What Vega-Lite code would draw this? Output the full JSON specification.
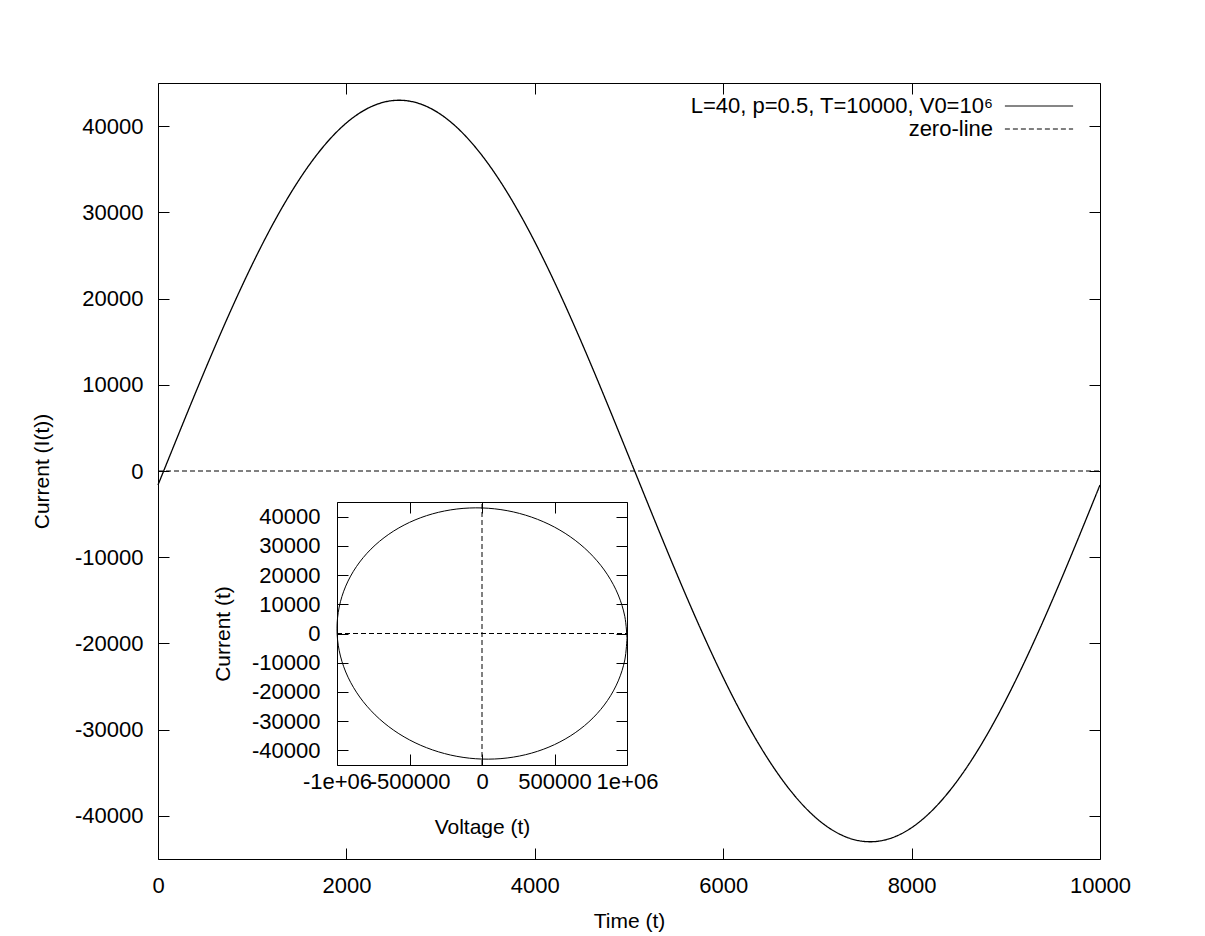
{
  "$schema": "https://vega.github.io/schema/vega-lite/v6.json",
  "width": 942,
  "height": 776,
  "autosize": {"type": "none"},
  "padding": {"left": 158, "top": 83, "right": 105, "bottom": 77},
  "background": "white",
  "config": {
    "view": {"stroke": "black", "strokeWidth": 1},
    "font": "Liberation Sans",
    "axis": {
      "labelFont": "Liberation Sans", "labelFontSize": 22, "labelColor": "black",
      "titleFont": "Liberation Sans", "titleFontSize": 21, "titleFontWeight": "normal", "titleColor": "black",
      "tickColor": "black", "tickWidth": 1, "tickSize": -11,
      "domainColor": "black", "domainWidth": 1,
      "grid": false, "labelFlush": false, "labelOverlap": false, "labelBound": false
    }
  },
  "datasets": {
    "main": [
      {"t": 0, "I": -1621}, {"t": 250, "I": 5121}, {"t": 500, "I": 11738}, {"t": 750, "I": 18064},
      {"t": 1000, "I": 23946}, {"t": 1250, "I": 29240}, {"t": 1500, "I": 33807}, {"t": 1750, "I": 37552},
      {"t": 2000, "I": 40369}, {"t": 2250, "I": 42188}, {"t": 2500, "I": 42969}, {"t": 2750, "I": 42694},
      {"t": 3000, "I": 41366}, {"t": 3250, "I": 39018}, {"t": 3500, "I": 35712}, {"t": 3750, "I": 31532},
      {"t": 4000, "I": 26570}, {"t": 4250, "I": 20950}, {"t": 4500, "I": 14822}, {"t": 4750, "I": 8325},
      {"t": 5000, "I": 1621}, {"t": 5250, "I": -5121}, {"t": 5500, "I": -11738}, {"t": 5750, "I": -18064},
      {"t": 6000, "I": -23946}, {"t": 6250, "I": -29240}, {"t": 6500, "I": -33807}, {"t": 6750, "I": -37552},
      {"t": 7000, "I": -40369}, {"t": 7250, "I": -42188}, {"t": 7500, "I": -42969}, {"t": 7750, "I": -42694},
      {"t": 8000, "I": -41366}, {"t": 8250, "I": -39018}, {"t": 8500, "I": -35712}, {"t": 8750, "I": -31532},
      {"t": 9000, "I": -26570}, {"t": 9250, "I": -20950}, {"t": 9500, "I": -14822}, {"t": 9750, "I": -8325},
      {"t": 10000, "I": -1621}
    ],
    "zero": [{"t": 0, "I": 0}, {"t": 10000, "I": 0}],
    "ellipse": [
      {"k": 0, "V": 1000000, "I": -1621}, {"k": 1, "V": 984808, "I": 5865}, {"k": 2, "V": 939693, "I": 13175},
      {"k": 3, "V": 866025, "I": 20081}, {"k": 4, "V": 766044, "I": 26381}, {"k": 5, "V": 642788, "I": 31880},
      {"k": 6, "V": 500000, "I": 36408}, {"k": 7, "V": 342020, "I": 39822}, {"k": 8, "V": 173648, "I": 42036},
      {"k": 9, "V": 0, "I": 42969}, {"k": 10, "V": -173648, "I": 42598}, {"k": 11, "V": -342020, "I": 40932},
      {"k": 12, "V": -500000, "I": 38025}, {"k": 13, "V": -642788, "I": 33957}, {"k": 14, "V": -766044, "I": 28862},
      {"k": 15, "V": -866025, "I": 22889}, {"k": 16, "V": -939693, "I": 16220}, {"k": 17, "V": -984808, "I": 9060},
      {"k": 18, "V": -1000000, "I": 1621}, {"k": 19, "V": -984808, "I": -5865}, {"k": 20, "V": -939693, "I": -13175},
      {"k": 21, "V": -866025, "I": -20081}, {"k": 22, "V": -766044, "I": -26381}, {"k": 23, "V": -642788, "I": -31880},
      {"k": 24, "V": -500000, "I": -36408}, {"k": 25, "V": -342020, "I": -39822}, {"k": 26, "V": -173648, "I": -42036},
      {"k": 27, "V": 0, "I": -42969}, {"k": 28, "V": 173648, "I": -42598}, {"k": 29, "V": 342020, "I": -40932},
      {"k": 30, "V": 500000, "I": -38025}, {"k": 31, "V": 642788, "I": -33957}, {"k": 32, "V": 766044, "I": -28862},
      {"k": 33, "V": 866025, "I": -22889}, {"k": 34, "V": 939693, "I": -16220}, {"k": 35, "V": 984808, "I": -9060},
      {"k": 36, "V": 1000000, "I": -1621}
    ],
    "cross": [
      {"g": "h", "k": 0, "V": -1000000, "I": 0}, {"g": "h", "k": 1, "V": 1000000, "I": 0},
      {"g": "v", "k": 0, "V": 0, "I": -45000}, {"g": "v", "k": 1, "V": 0, "I": 45000}
    ]
  },
  "layer": [
    {
      "data": {"name": "main"},
      "mark": {"type": "line", "color": "black", "strokeWidth": 1.3, "interpolate": "natural"},
      "encoding": {
        "x": {"field": "t", "type": "quantitative",
          "scale": {"domain": [0, 10000], "nice": false},
          "axis": {"orient": "bottom", "values": [0, 2000, 4000, 6000, 8000, 10000], "domain": false,
            "labelPadding": 27, "title": "Time (t)", "titlePadding": 14,
            "labelExpr": "datum.value < 0 ? '-' + abs(datum.value) : '' + datum.value"}},
        "y": {"field": "I", "type": "quantitative",
          "scale": {"domain": [-45000, 45000], "nice": false, "zero": false},
          "axis": {"orient": "left", "values": [-40000, -30000, -20000, -10000, 0, 10000, 20000, 30000, 40000], "domain": false,
            "labelPadding": 26, "title": "Current (I(t))", "titlePadding": 22,
            "labelExpr": "datum.value < 0 ? '-' + abs(datum.value) : '' + datum.value"}},
        "strokeDash": {"datum": "L=40, p=0.5, T=10000, V0=10⁶", "type": "nominal",
          "scale": {"domain": ["L=40, p=0.5, T=10000, V0=10⁶", "zero-line"], "range": [[1, 0], [5, 3]]},
          "legend": {"orient": "none", "legendX": 870, "legendY": 12, "title": null, "padding": 0, "rowPadding": 1,
            "symbolType": "M-6.2,0H6.2", "symbolSize": 121, "symbolStrokeWidth": 1, "symbolStrokeColor": "black", "symbolFillColor": "transparent",
            "labelAlign": "right", "labelOffset": -57, "labelLimit": 0, "labelFontSize": 22, "labelFont": "Liberation Sans", "labelColor": "black"}}
      }
    },
    {
      "data": {"name": "zero"},
      "mark": {"type": "line", "color": "black", "strokeWidth": 1},
      "encoding": {
        "x": {"field": "t", "type": "quantitative",
          "scale": {"domain": [0, 10000], "nice": false},
          "axis": {"orient": "top", "values": [0, 2000, 4000, 6000, 8000, 10000], "domain": false, "labels": false, "title": null}},
        "y": {"field": "I", "type": "quantitative",
          "scale": {"domain": [-45000, 45000], "nice": false, "zero": false},
          "axis": {"orient": "right", "values": [-40000, -30000, -20000, -10000, 0, 10000, 20000, 30000, 40000], "domain": false, "labels": false, "title": null}},
        "strokeDash": {"datum": "zero-line", "type": "nominal",
          "scale": {"domain": ["L=40, p=0.5, T=10000, V0=10⁶", "zero-line"], "range": [[1, 0], [5, 3]]},
          "legend": {"orient": "none", "legendX": 870, "legendY": 12, "title": null, "padding": 0, "rowPadding": 1,
            "symbolType": "M-6.2,0H6.2", "symbolSize": 121, "symbolStrokeWidth": 1, "symbolStrokeColor": "black", "symbolFillColor": "transparent",
            "labelAlign": "right", "labelOffset": -57, "labelLimit": 0, "labelFontSize": 22, "labelFont": "Liberation Sans", "labelColor": "black"}}
      }
    },
    {
      "data": {"name": "ellipse"},
      "mark": {"type": "line", "color": "black", "strokeWidth": 1, "interpolate": "catmull-rom"},
      "encoding": {
        "x": {"field": "V", "type": "quantitative",
          "scale": {"domain": [-1000000, 1000000], "range": [179, 469], "nice": false},
          "axis": {"orient": "bottom", "offset": -94, "values": [-1000000, -500000, 0, 500000, 1000000],
            "labelPadding": 17, "title": "Voltage (t)", "titlePadding": 24,
            "labelExpr": "datum.value == 1000000 ? '1e+06' : datum.value == -1000000 ? '-1e+06' : datum.value < 0 ? '-' + abs(datum.value) : '' + datum.value"}},
        "y": {"field": "I", "type": "quantitative",
          "scale": {"domain": [-45000, 45000], "range": [682, 419], "nice": false, "zero": false},
          "axis": {"orient": "left", "offset": -179, "values": [-40000, -30000, -20000, -10000, 0, 10000, 20000, 30000, 40000],
            "labelPadding": 28, "title": "Current (t)", "titlePadding": 18,
            "labelExpr": "datum.value < 0 ? '-' + abs(datum.value) : '' + datum.value"}},
        "order": {"field": "k", "type": "quantitative"}
      }
    },
    {
      "data": {"name": "cross"},
      "mark": {"type": "line", "color": "black", "strokeWidth": 1, "strokeDash": [5, 3]},
      "encoding": {
        "x": {"field": "V", "type": "quantitative",
          "scale": {"domain": [-1000000, 1000000], "range": [179, 469], "nice": false},
          "axis": {"orient": "top", "offset": -419, "values": [-1000000, -500000, 0, 500000, 1000000], "labels": false, "title": null}},
        "y": {"field": "I", "type": "quantitative",
          "scale": {"domain": [-45000, 45000], "range": [682, 419], "nice": false, "zero": false},
          "axis": {"orient": "right", "offset": -473, "values": [-40000, -30000, -20000, -10000, 0, 10000, 20000, 30000, 40000], "labels": false, "title": null}},
        "detail": {"field": "g", "type": "nominal"},
        "order": {"field": "k", "type": "quantitative"}
      }
    }
  ],
  "resolve": {"scale": {"x": "independent", "y": "independent"}, "axis": {"x": "independent", "y": "independent"}}
}
